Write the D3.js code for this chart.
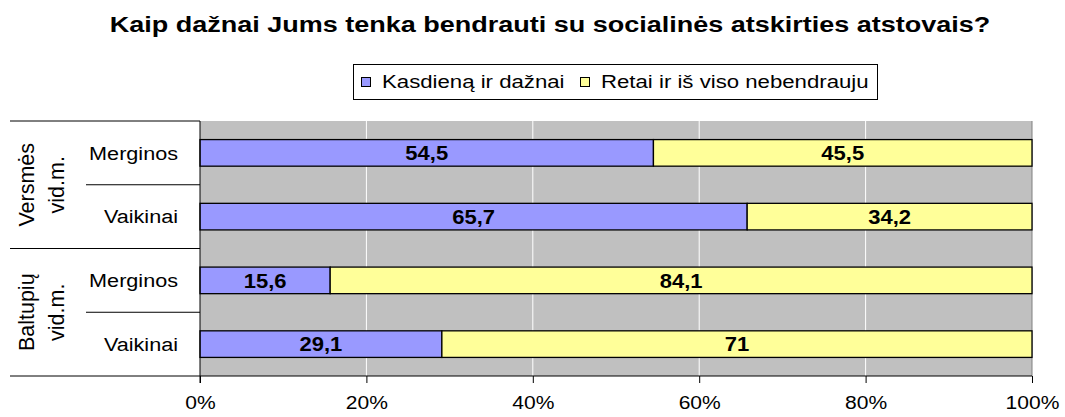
<!DOCTYPE html>
<html>
<head>
<meta charset="utf-8">
<script src="https://cdn.jsdelivr.net/npm/d3@7"></script>
<style>
  body { margin: 0; background: #fff; }
  #chart { width: 1065px; height: 417px; }
  text { font-family: "Liberation Sans", Arial, sans-serif; fill: #000; }
</style>
</head>
<body>
<div id="chart"></div>
<script>
// chart data
const groups = ["Versmės vid.m.", "Baltupių vid.m."];
const categories = ["Versmės|Merginos", "Versmės|Vaikinai", "Baltupių|Merginos", "Baltupių|Vaikinai"];
const categoryLabels = ["Merginos", "Vaikinai", "Merginos", "Vaikinai"];
const seriesNames = ["Kasdieną ir dažnai", "Retai ir iš viso nebendrauju"];
const often = [54.5, 65.7, 15.6, 29.1];
const rarely = [45.5, 34.2, 84.1, 71];
const xTicks = [0, 0.2, 0.4, 0.6, 0.8, 1];

const width = 1065, height = 417;
const margin = {top: 121, left: 200, right: 33, bottom: 41};
const colors = ["#9999FF", "#FFFF99"];
const sx = 1.2; // the original text is drawn a bit wide

const svg = d3.select("#chart").append("svg")
    .attr("width", width)
    .attr("height", height);

// place a text at (x,y) with a horizontal stretch
function place(sel, x, y, s = sx) {
    return sel.attr("transform", (d, i) => {
        const xx = typeof x === "function" ? x(d, i) : x;
        const yy = typeof y === "function" ? y(d, i) : y;
        return `translate(${xx},${yy}) scale(${s},1)`;
    });
}

// rows for the stack (100% stacked, so normalise each row)
const rows = categories.map((c, i) => {
    const total = often[i] + rarely[i];
    return {cat: c, label: categoryLabels[i], v: [often[i], rarely[i]], s: [often[i] / total, rarely[i] / total]};
});

const stack = d3.stack()
    .keys([0, 1])
    .value((d, k) => d.s[k]);
const layers = stack(rows);

const xScale = d3.scaleLinear()
    .domain([0, 1])
    .range([margin.left, width - margin.right]);

const yScale = d3.scaleBand()
    .domain(categories)
    .range([margin.top, height - margin.bottom])
    .paddingInner(0.583)
    .paddingOuter(0.2915);

const rowScale = d3.scaleBand()
    .domain(categories)
    .range([margin.top, height - margin.bottom]);

// title
svg.append("text")
    .call(place, 550, 32)
    .attr("text-anchor", "middle")
    .style("font-size", "22.5px")
    .style("font-weight", "bold")
    .text("Kaip dažnai Jums tenka bendrauti su socialinės atskirties atstovais?");

// plot background
svg.append("rect")
    .attr("x", xScale(0))
    .attr("y", margin.top)
    .attr("width", xScale(1) - xScale(0))
    .attr("height", height - margin.bottom - margin.top)
    .attr("fill", "#C0C0C0");

// gridlines
svg.append("g")
    .selectAll("line")
    .data(xTicks.slice(1, -1))
    .join("line")
    .attr("x1", d => xScale(d)).attr("x2", d => xScale(d))
    .attr("y1", margin.top).attr("y2", height - margin.bottom)
    .attr("stroke", "#fff")
    .attr("stroke-width", 1);

// right border of plot
svg.append("line")
    .attr("x1", xScale(1)).attr("x2", xScale(1))
    .attr("y1", margin.top).attr("y2", height - margin.bottom)
    .attr("stroke", "#808080");

// bars
const layerG = svg.append("g")
    .selectAll("g")
    .data(layers)
    .join("g")
    .attr("fill", (d, i) => colors[i]);

layerG.selectAll("rect")
    .data(d => d)
    .join("rect")
    .attr("x", d => xScale(d[0]))
    .attr("y", d => yScale(d.data.cat))
    .attr("width", d => xScale(d[1]) - xScale(d[0]))
    .attr("height", yScale.bandwidth())
    .attr("stroke", "#000")
    .attr("stroke-width", 1.3);

// data labels
layers.forEach((layer, k) => {
    svg.append("g")
        .selectAll("text")
        .data(layer)
        .join("text")
        .call(place,
            d => (xScale(d[0]) + xScale(d[1])) / 2,
            d => yScale(d.data.cat) + yScale.bandwidth() / 2,
            1.1)
        .attr("dy", "0.36em")
        .attr("text-anchor", "middle")
        .style("font-size", "20px")
        .style("font-weight", "bold")
        .text(d => String(d.data.v[k]).replace(".", ","));
});

// x axis
const xAxis = svg.append("g")
    .attr("transform", `translate(0,${height - margin.bottom})`)
    .call(d3.axisBottom(xScale)
        .tickValues(xTicks)
        .tickFormat(d3.format(".0%"))
        .tickSize(7)
        .tickPadding(13));
xAxis.select(".domain").remove();
xAxis.selectAll("line").attr("stroke", "#000");
xAxis.selectAll("text")
    .attr("transform", "scale(1.15,1)")
    .style("font-size", "18.3px")
    .style("font-family", "'Liberation Sans', Arial, sans-serif");

// left axis line
svg.append("line")
    .attr("x1", xScale(0)).attr("x2", xScale(0))
    .attr("y1", margin.top).attr("y2", height - margin.bottom + 7)
    .attr("stroke", "#000");

// category separators: group boundaries long, inner boundaries short
const bounds = [margin.top].concat(categories.map(c => rowScale(c) + rowScale.bandwidth()));
svg.append("g")
    .selectAll("line")
    .data(bounds)
    .join("line")
    .attr("x1", (d, i) => i % 2 === 0 ? 10 : 86)
    .attr("x2", xScale(0))
    .attr("y1", d => d).attr("y2", d => d)
    .attr("stroke", "#000");
// axis line across the bottom
svg.append("line")
    .attr("x1", xScale(0)).attr("x2", xScale(1))
    .attr("y1", height - margin.bottom).attr("y2", height - margin.bottom)
    .attr("stroke", "#000");

// category labels
svg.append("g")
    .selectAll("text")
    .data(rows)
    .join("text")
    .call(place, 178, d => rowScale(d.cat) + rowScale.bandwidth() / 2, 1.15)
    .attr("dy", "0.36em")
    .attr("text-anchor", "end")
    .style("font-size", "18.8px")
    .text(d => d.label);

// group labels (rotated, two lines)
groups.forEach((g, i) => {
    const cy = (rowScale(categories[i * 2]) + rowScale(categories[i * 2 + 1]) + rowScale.bandwidth()) / 2;
    const parts = g.split(" ");
    const t = svg.append("text")
        .attr("transform", `translate(0,${cy}) rotate(-90)`)
        .attr("text-anchor", "middle")
        .style("font-size", "21.5px");
    t.append("tspan").attr("x", 0).attr("y", 34).text(parts[0]);
    t.append("tspan").attr("x", 0).attr("y", 64).text(parts[1]);
});

// legend
const legend = svg.append("g");
legend.append("rect")
    .attr("x", 353.5).attr("y", 64.5)
    .attr("width", 524).attr("height", 35)
    .attr("fill", "#fff")
    .attr("stroke", "#000");
const legendX = [361, 580];
seriesNames.forEach((name, i) => {
    legend.append("rect")
        .attr("x", legendX[i] + 0.5).attr("y", 77.5)
        .attr("width", 9).attr("height", 9)
        .attr("fill", colors[i])
        .attr("stroke", "#000");
    legend.append("text")
        .call(place, legendX[i] + 21, 88)
        .style("font-size", "18.5px")
        .text(name);
});
</script>
</body>
</html>
